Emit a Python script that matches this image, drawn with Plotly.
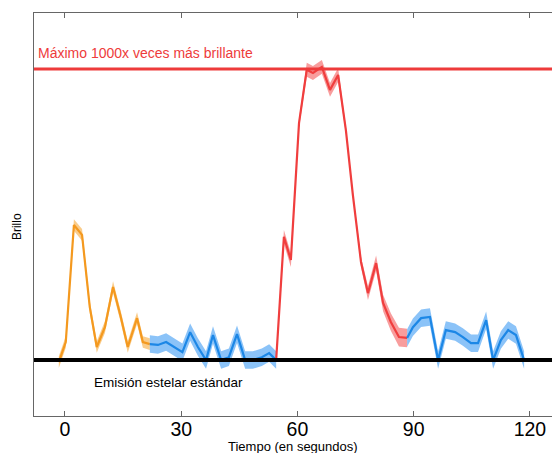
import plotly.graph_objects as go

# ---- data ----
orange_t = [-1.6, 0.2, 2.3, 4.4, 6.4, 8.2, 10.3, 12.4, 14.4, 16.2, 18.6, 20.1, 21.9]
orange_y = [-0.7, 6.2, 46.4, 43.0, 18.2, 4.5, 11.3, 25.1, 14.8, 4.5, 14.4, 6.2, 5.5]
orange_err = [2.0] * 13

blue1_t = [21.9, 24.0, 26.1, 28.2, 30.3, 32.3, 34.3, 36.4, 38.2, 40.3, 42.3, 44.4, 46.5, 48.5, 50.8, 52.7, 54.5]
blue1_y = [5.5, 5.2, 6.2, 4.5, 2.7, 9.6, 4.5, 0.0, 8.6, 0.0, 1.0, 8.9, 0.0, 0.0, 1.0, 2.4, 0.0]
blue1_err = [3.0] * 17

red_t = [54.5, 56.5, 58.3, 60.4, 62.4, 64.0, 66.3, 68.4, 70.5, 72.5, 74.3, 76.4, 78.2, 80.3, 82.1, 84.1, 86.2, 88.3]
red_y = [0.0, 42.3, 34.4, 81.4, 99.7, 98.6, 100.7, 92.8, 97.9, 79.0, 56.7, 33.7, 23.0, 33.3, 19.6, 13.1, 7.9, 7.6]
red_err = [1.2, 2.4, 2.4, 1.6, 2.4, 2.4, 2.4, 2.4, 2.4, 1.3, 1.3, 1.8, 2.4, 2.6, 2.8, 3.0, 3.2, 3.2]

blue2_t = [88.3, 89.8, 91.9, 94.2, 96.3, 98.3, 100.7, 102.7, 104.8, 106.6, 108.7, 110.5, 112.5, 114.4, 116.4, 118.5]
blue2_y = [7.6, 11.3, 14.4, 14.8, 0.0, 10.3, 9.6, 7.9, 5.8, 5.8, 13.7, 0.0, 6.9, 10.3, 8.6, 0.0]
blue2_err = [3.0] * 16

baseline_value = 0
maximum_value = 100
x_ticks = [0, 30, 60, 90, 120]
x_range = [-8.0, 125.7]
y_range = [-19.2, 119.2]

max_label = "Máximo 1000x veces más brillante"
base_label = "Emisión estelar estándar"
x_title = "Tiempo (en segundos)"
y_title = "Brillo"

FONT = "Liberation Sans, Arial, Helvetica, sans-serif"

fig = go.Figure()


def add_series(t, y, err, line_color, band_color):
    upper = [v + e for v, e in zip(y, err)]
    lower = [v - e for v, e in zip(y, err)]
    fig.add_trace(go.Scatter(
        x=t + t[::-1], y=upper + lower[::-1], fill="toself",
        fillcolor=band_color, line=dict(width=0), mode="lines",
        hoverinfo="skip", showlegend=False))
    fig.add_trace(go.Scatter(
        x=t, y=y, mode="lines", line=dict(color=line_color, width=2.2),
        showlegend=False))


add_series(orange_t, orange_y, orange_err, "#F4991F", "rgba(246,170,60,0.6)")
add_series(blue1_t, blue1_y, blue1_err, "#1C87E6", "rgba(100,175,245,0.75)")
add_series(red_t, red_y, red_err, "#F03E3E", "rgba(245,115,115,0.7)")
add_series(blue2_t, blue2_y, blue2_err, "#1C87E6", "rgba(100,175,245,0.75)")

# reference lines
fig.add_trace(go.Scatter(x=x_range, y=[baseline_value, baseline_value], mode="lines",
                         line=dict(color="black", width=4), showlegend=False))
fig.add_trace(go.Scatter(x=x_range, y=[maximum_value, maximum_value], mode="lines",
                         line=dict(color="#EE3B3B", width=3), showlegend=False))

fig.add_annotation(x=0, xref="paper", y=maximum_value, yref="y", text=max_label,
                   showarrow=False, xanchor="left", yanchor="bottom", xshift=2, yshift=6,
                   font=dict(family=FONT, size=14, color="#EE3B3B"))
fig.add_annotation(x=26.6, xref="x", y=baseline_value, yref="y", text=base_label,
                   showarrow=False, xanchor="center", yanchor="top", yshift=-13,
                   font=dict(family=FONT, size=13.5, color="black"))
fig.add_annotation(x=0.5, xref="paper", y=0, yref="paper", text=x_title,
                   showarrow=False, xanchor="center", yanchor="middle", yshift=-30,
                   font=dict(family=FONT, size=13, color="black"))
fig.add_annotation(x=-0.033, xref="paper", y=0.471, yref="paper", text=y_title,
                   showarrow=False, xanchor="center", yanchor="middle", textangle=-90,
                   font=dict(family=FONT, size=12, color="black"))

fig.update_layout(
    width=552, height=453,
    margin=dict(l=34, r=0, t=13, b=37),
    paper_bgcolor="white", plot_bgcolor="white",
    font=dict(family=FONT),
    xaxis=dict(range=x_range, tickvals=x_ticks, ticktext=[str(v) for v in x_ticks],
               showgrid=False, zeroline=False, showline=True, linecolor="#666",
               linewidth=1.2, mirror="ticks", ticks="inside", ticklen=5,
               tickcolor="#666", tickfont=dict(family=FONT, size=19.5, color="black"),
               ticklabelstandoff=-5, automargin=False),
    yaxis=dict(range=y_range, showgrid=False, zeroline=False, showline=True,
               mirror=False, linecolor="#666", linewidth=1.2,
               showticklabels=False, ticks="", automargin=False),
)

# remove the default page margin so the figure fills the window exactly
fig.write_html(
    "out.html",
    config={"displayModeBar": False},
    post_script=(
        "document.documentElement.style.overflow='hidden';"
        "document.documentElement.style.margin='0';"
        "document.body.style.margin='0';document.body.style.overflow='hidden';"
    ),
)
